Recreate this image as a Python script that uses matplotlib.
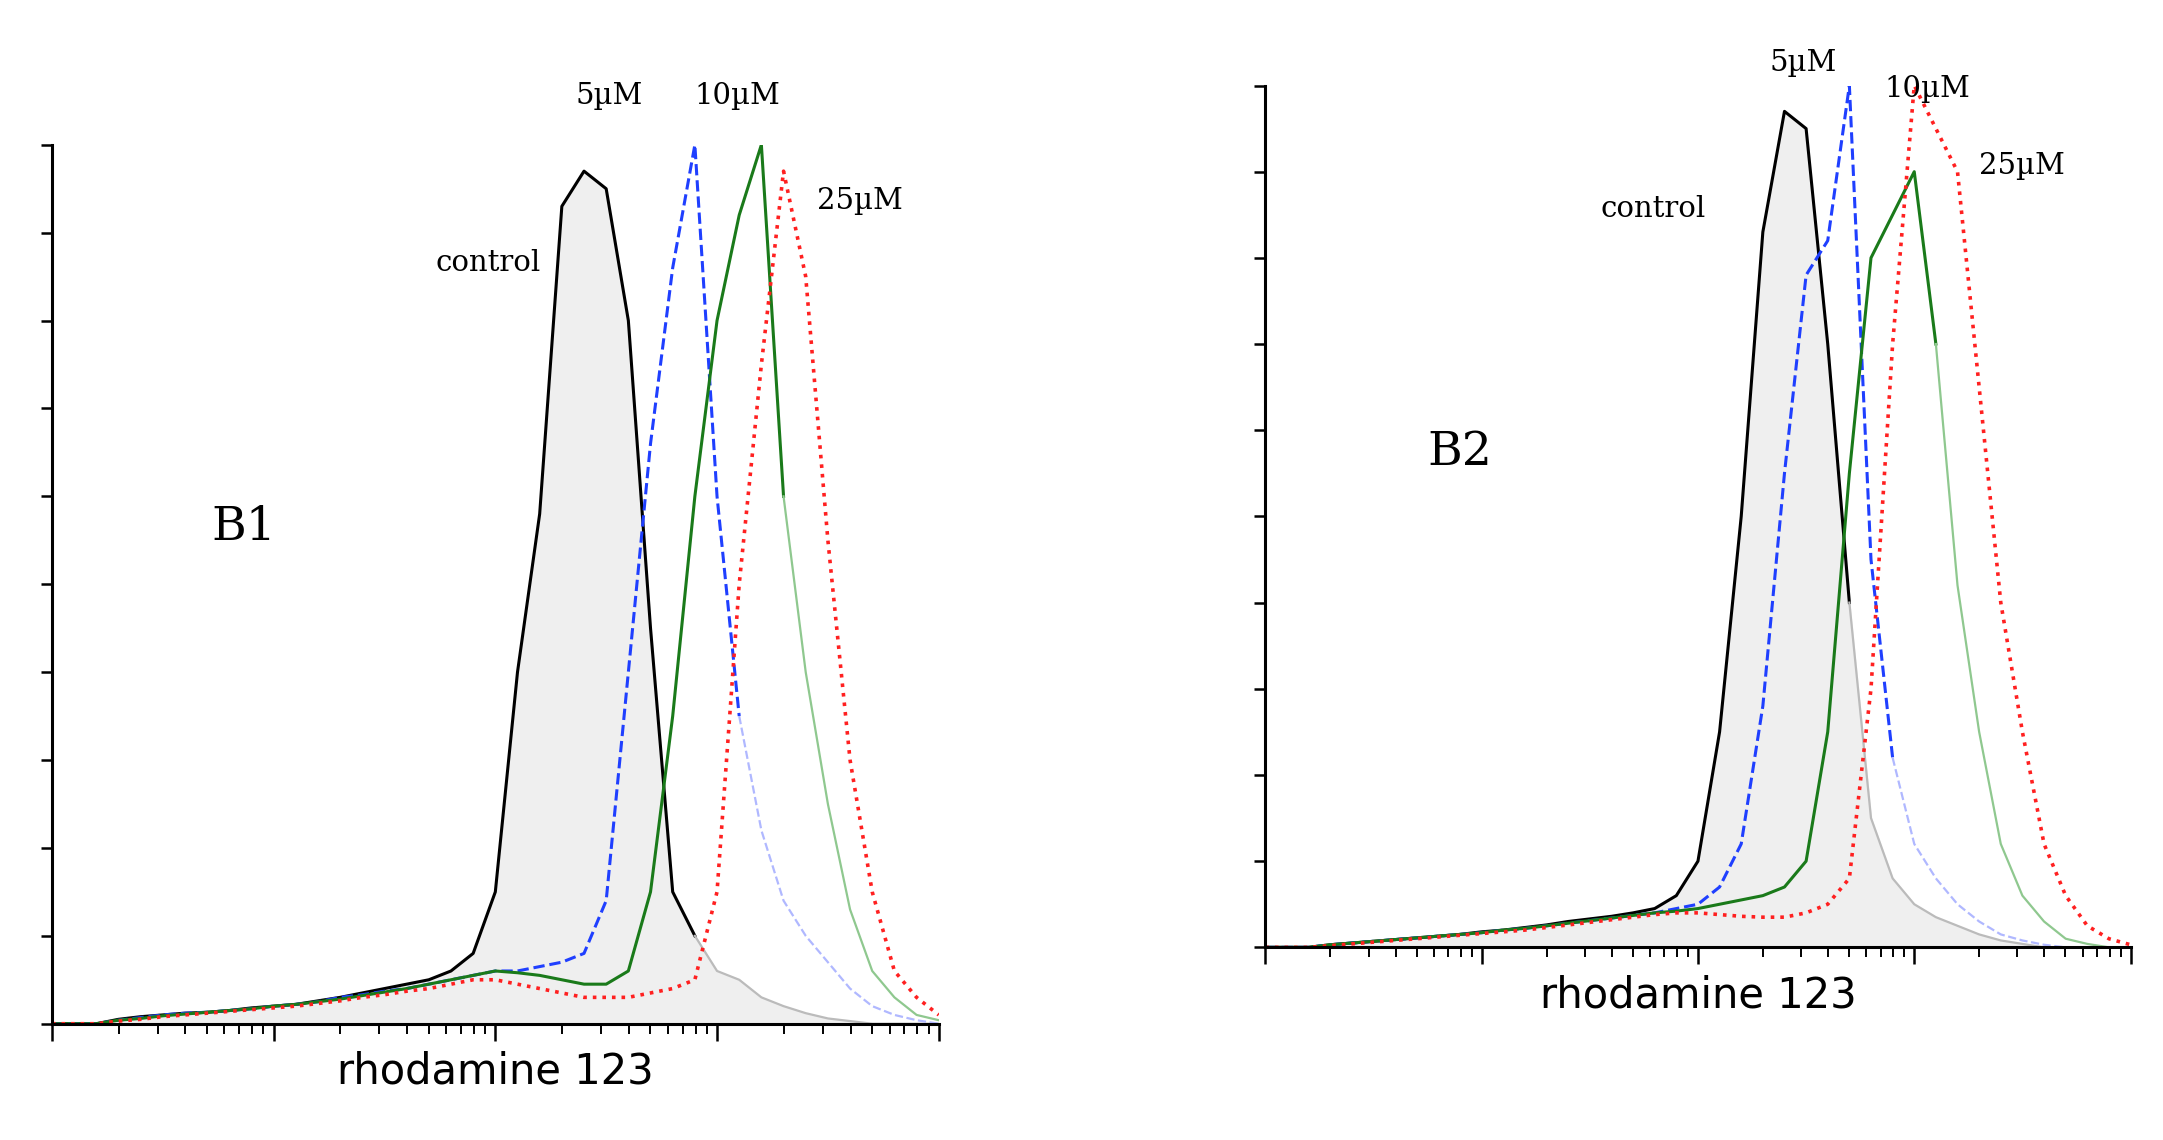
import numpy as np
import matplotlib.pyplot as plt

# log10 fluorescence grid, 0..4 in steps of 0.1
log_x = np.arange(41) / 10.0

# B1 histograms (relative counts)
b1_control = [0, 0, 0, 0.005, 0.008, 0.01, 0.012, 0.013, 0.015, 0.018, 0.02, 0.022, 0.026, 0.03, 0.035,
              0.04, 0.045, 0.05, 0.06, 0.08, 0.15, 0.4, 0.58, 0.93, 0.97, 0.95, 0.8, 0.45, 0.15, 0.1,
              0.06, 0.05, 0.03, 0.02, 0.012, 0.006, 0.003, 0, 0, 0, 0]
b1_5uM = [0, 0, 0, 0.004, 0.007, 0.01, 0.012, 0.013, 0.015, 0.017, 0.02, 0.022, 0.025, 0.03, 0.033,
          0.037, 0.04, 0.045, 0.05, 0.055, 0.06, 0.06, 0.065, 0.07, 0.08, 0.14, 0.4, 0.66, 0.86, 1.0,
          0.6, 0.35, 0.22, 0.14, 0.1, 0.07, 0.04, 0.02, 0.01, 0.004, 0]
b1_10uM = [0, 0, 0, 0.004, 0.006, 0.009, 0.011, 0.013, 0.015, 0.017, 0.02, 0.022, 0.025, 0.028, 0.032,
           0.036, 0.04, 0.045, 0.05, 0.055, 0.06, 0.058, 0.055, 0.05, 0.045, 0.045, 0.06, 0.15, 0.35, 0.6,
           0.8, 0.92, 1.0, 0.6, 0.4, 0.25, 0.13, 0.06, 0.03, 0.01, 0.004]
b1_25uM = [0, 0, 0, 0.003, 0.005, 0.008, 0.01, 0.012, 0.014, 0.016, 0.018, 0.02, 0.023, 0.026, 0.03,
           0.033, 0.037, 0.04, 0.045, 0.05, 0.05, 0.045, 0.04, 0.035, 0.03, 0.03, 0.03, 0.035, 0.04, 0.05,
           0.15, 0.5, 0.75, 0.97, 0.85, 0.55, 0.3, 0.15, 0.06, 0.03, 0.01]

# B2 histograms
b2_control = [0, 0, 0, 0.003, 0.005, 0.007, 0.009, 0.011, 0.013, 0.015, 0.018, 0.02, 0.023, 0.026, 0.03,
              0.033, 0.036, 0.04, 0.045, 0.06, 0.1, 0.25, 0.5, 0.83, 0.97, 0.95, 0.7, 0.4, 0.15, 0.08,
              0.05, 0.035, 0.025, 0.015, 0.008, 0.004, 0, 0, 0, 0, 0]
b2_5uM = [0, 0, 0, 0.003, 0.005, 0.007, 0.009, 0.011, 0.013, 0.015, 0.017, 0.02, 0.022, 0.025, 0.028,
          0.031, 0.034, 0.037, 0.04, 0.045, 0.05, 0.07, 0.12, 0.28, 0.55, 0.78, 0.82, 1.0, 0.45, 0.22,
          0.12, 0.08, 0.05, 0.03, 0.015, 0.008, 0.003, 0, 0, 0, 0]
b2_10uM = [0, 0, 0, 0.003, 0.005, 0.007, 0.009, 0.011, 0.013, 0.015, 0.017, 0.02, 0.022, 0.025, 0.028,
           0.031, 0.034, 0.037, 0.04, 0.042, 0.045, 0.05, 0.055, 0.06, 0.07, 0.1, 0.25, 0.55, 0.8, 0.85,
           0.9, 0.7, 0.42, 0.25, 0.12, 0.06, 0.03, 0.01, 0.004, 0, 0]
b2_25uM = [0, 0, 0, 0.002, 0.004, 0.006, 0.008, 0.01, 0.012, 0.014, 0.016, 0.018, 0.02, 0.023, 0.026,
           0.029, 0.032, 0.035, 0.038, 0.04, 0.04, 0.038, 0.036, 0.035, 0.035, 0.04, 0.05, 0.08, 0.3, 0.7,
           1.0, 0.95, 0.9, 0.65, 0.4, 0.25, 0.12, 0.06, 0.025, 0.01, 0.003]

# (data, colour, faded colour, linestyle, index where the line fades)
B1_SERIES = [(b1_control, 'black', '#bbbbbb', '-', 29),
             (b1_5uM, '#1f3fff', '#b0b8ff', '--', 31),
             (b1_10uM, '#1a7a1a', '#8fc88f', '-', 33),
             (b1_25uM, '#ff2020', '#ff2020', ':', 41)]
B2_SERIES = [(b2_control, 'black', '#bbbbbb', '-', 27),
             (b2_5uM, '#1f3fff', '#b0b8ff', '--', 29),
             (b2_10uM, '#1a7a1a', '#8fc88f', '-', 31),
             (b2_25uM, '#ff2020', '#ff2020', ':', 41)]

B1_LABELS = [('control', 1.73, 0.85), ('5µM', 2.36, 1.04), ('10µM', 2.9, 1.04), ('25µM', 3.45, 0.92)]
B2_LABELS = [('control', 1.55, 0.84), ('5µM', 2.33, 1.01), ('10µM', 2.86, 0.98), ('25µM', 3.3, 0.89)]


def draw_panel(ax, series, labels, panel_name, name_xy):
    x = 10 ** log_x
    ctrl = np.array(series[0][0])
    ax.fill_between(x, 0, ctrl, color='#efefef', zorder=0)
    for data, col, faded, ls, fade in series:
        y = np.array(data)
        lw = 2.6 if ls == ':' else 2.2
        ax.plot(x[:fade + 1], y[:fade + 1], color=col, ls=ls, lw=lw)
        if fade < len(y) - 1:
            ax.plot(x[fade:], y[fade:], color=faded, ls=ls, lw=1.6)
    for txt, lx, ly in labels:
        ax.text(10 ** lx, ly, txt, family='DejaVu Serif', fontsize=21, va='bottom',
                clip_on=False)
    ax.text(10 ** name_xy[0], name_xy[1], panel_name, family='DejaVu Serif', fontsize=34)
    ax.set_xscale('log')
    ax.set_xlim(1, 10 ** 4)
    ax.set_ylim(0, 1.0)
    ax.set_yticks(np.linspace(0, 1, 11))
    ax.set_yticklabels([])
    ax.xaxis.set_ticklabels([], minor=True)
    ax.set_xticklabels([])
    ax.tick_params(axis='x', which='major', direction='out', length=12, width=1.8)
    ax.tick_params(axis='x', which='minor', direction='out', length=7, width=1.4)
    ax.tick_params(axis='y', direction='out', length=8, width=1.8)
    for s in ['top', 'right']:
        ax.spines[s].set_visible(False)
    for s in ['left', 'bottom']:
        ax.spines[s].set_linewidth(2.2)
    ax.set_xlabel('rhodamine 123', fontsize=30, labelpad=4, family='DejaVu Sans')


fig = plt.figure(figsize=(21.63, 11.40), dpi=100)
ax1 = fig.add_axes([0.024, 0.102, 0.41, 0.771])
ax2 = fig.add_axes([0.585, 0.169, 0.40, 0.756])
draw_panel(ax1, B1_SERIES, B1_LABELS, 'B1', (0.72, 0.55))
draw_panel(ax2, B2_SERIES, B2_LABELS, 'B2', (0.75, 0.56))
fig.savefig('out.png', dpi=100)
